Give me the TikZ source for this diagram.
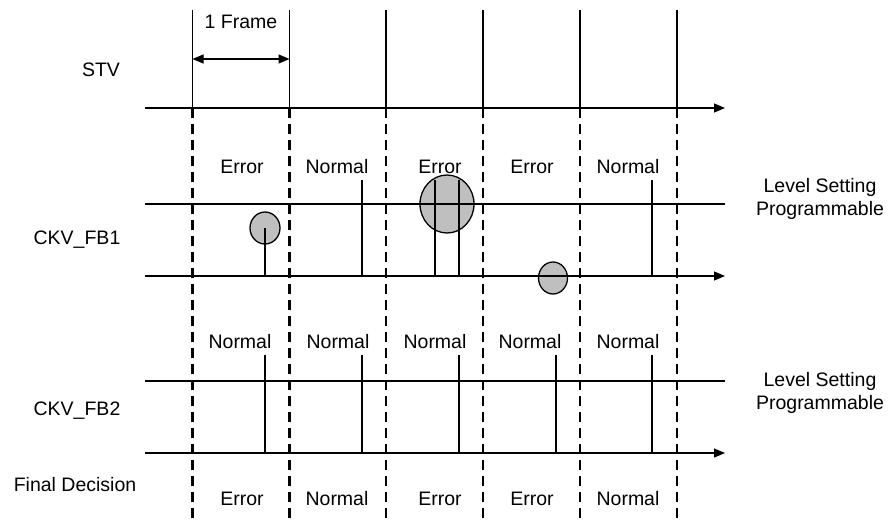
\documentclass[tikz,border=0pt]{standalone}
\usepackage{fontspec}
\setmainfont{Liberation Sans}
\usetikzlibrary{arrows.meta,shapes.geometric}
\begin{document}
\begin{tikzpicture}[x=1pt,y=-1pt,
  lbl/.style={font=\fontsize{19.5}{23}\selectfont, inner sep=0pt},
  axis/.style={line width=1.3pt,-{Triangle[length=11pt,width=9pt]}},
  lvl/.style={line width=1.3pt},
  pulse/.style={line width=1.3pt},
  solidv/.style={line width=1.3pt},
  dashv/.style={line width=2.2pt,dash pattern=on 10pt off 6pt},
  blob/.style={ellipse,draw,line width=1.3pt,fill=black!25,inner sep=0pt}]
\useasboundingbox (0,0) rectangle (889,523);
% frame boundaries
\foreach \i/\x in {0/192.5,1/289.5,2/386,3/483,4/580,5/677}{
  \coordinate (t\i) at (\x,10);
  \coordinate (m\i) at (\x,108);
  \coordinate (b\i) at (\x,523);
}
% circles (under the lines)
\node[blob,minimum width=30pt,minimum height=32pt] (c1) at (265,228) {};
\node[blob,minimum width=54pt,minimum height=58pt] (c3) at (447,204) {};
\node[blob,minimum width=29pt,minimum height=32pt] (c4) at (553,278) {};
% axes
\coordinate (stvL) at (145,108); \coordinate (stvR) at (725,108);
\coordinate (l1L) at (145,204); \coordinate (l1R) at (725,204);
\coordinate (a1L) at (145,276); \coordinate (a1R) at (725,276);
\coordinate (l2L) at (145,381); \coordinate (l2R) at (725,381);
\coordinate (a2L) at (145,453); \coordinate (a2R) at (725,453);
\draw[axis] (stvL) -- (stvR);
\draw[lvl] (l1L) -- (l1R);
\draw[axis] (a1L) -- (a1R);
\draw[lvl] (l2L) -- (l2R);
\draw[axis] (a2L) -- (a2R);
% vertical lines
\foreach \i in {0,...,5}{
  \draw[solidv] (t\i) -- (m\i);
  \draw[dashv] (m\i) -- (b\i);
}
% 1 Frame
\coordinate (fa) at (192.5,59); \coordinate (fb) at (289.5,59);
\draw[line width=1.3pt,{Triangle[length=11pt,width=9pt]}-{Triangle[length=11pt,width=9pt]}] (fa) -- (fb);
\node[lbl] (frame) at (241,22) {1 Frame};
% FB1 pulses
\coordinate (p1a) at (265,276); \coordinate (p1b) at (c1.center);
\coordinate (p2a) at (362,276); \coordinate (p2b) at (362,180);
\coordinate (p3a) at (435,276); \coordinate (p3b) at (435,180);
\coordinate (p4a) at (459,276); \coordinate (p4b) at (459,180);
\coordinate (p5a) at (652,276); \coordinate (p5b) at (652,180);
\foreach \k in {1,...,5}{\draw[pulse] (p\k a) -- (p\k b);}
% FB2 pulses
\foreach \k/\x in {1/265,2/362,3/459,4/556,5/652}{
  \coordinate (q\k a) at (\x,453); \coordinate (q\k b) at (\x,355);
  \draw[pulse] (q\k a) -- (q\k b);
}
% left labels
\node[lbl] (stv) at (101,70) {STV};
\node[lbl] (fb1) at (77,240) {CKV\_FB1};
\node[lbl] (fb2) at (77,411) {CKV\_FB2};
\node[lbl] (fd) at (75,485) {Final Decision};
% right labels
\node[lbl,align=center,font=\fontsize{19.5}{23}\selectfont] (lv1) at (820,199) {Level Setting\\Programmable};
\node[lbl,align=center,font=\fontsize{19.5}{23}\selectfont] (lv2) at (820,393) {Level Setting\\Programmable};
% row labels
\node[lbl] (r1a) at (242,167) {Error};
\node[lbl] (r1b) at (337,167) {Normal};
\node[lbl] (r1c) at (440,167) {Error};
\node[lbl] (r1d) at (532,167) {Error};
\node[lbl] (r1e) at (628,167) {Normal};
\node[lbl] (r2a) at (240,342) {Normal};
\node[lbl] (r2b) at (338,342) {Normal};
\node[lbl] (r2c) at (435,342) {Normal};
\node[lbl] (r2d) at (530,342) {Normal};
\node[lbl] (r2e) at (628,342) {Normal};
\node[lbl] (r3a) at (242,499) {Error};
\node[lbl] (r3b) at (337,499) {Normal};
\node[lbl] (r3c) at (440,499) {Error};
\node[lbl] (r3d) at (532,499) {Error};
\node[lbl] (r3e) at (628,499) {Normal};
\end{tikzpicture}
\end{document}
